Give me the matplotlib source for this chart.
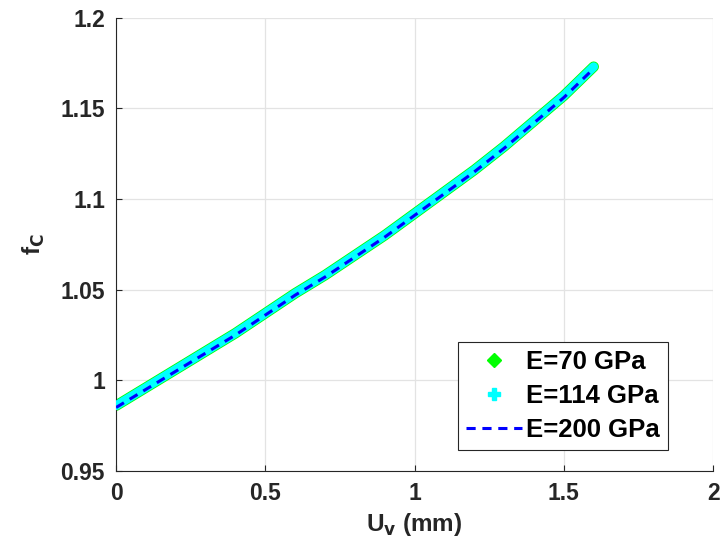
import matplotlib
matplotlib.use('Agg')
import matplotlib.pyplot as plt
from matplotlib.lines import Line2D
import numpy as np

plt.rcParams['font.family'] = ['Liberation Sans', 'DejaVu Sans']
plt.rcParams['font.weight'] = 'bold'
plt.rcParams['axes.labelweight'] = 'bold'
plt.rcParams['mathtext.default'] = 'bf'

# vertical displacement (mm) and correction factor for each modulus
uv = [0.0, 0.1, 0.2, 0.3, 0.4, 0.5, 0.6, 0.7, 0.8, 0.9, 1.0,
      1.1, 1.2, 1.3, 1.4, 1.5, 1.6]
fc_70 = [0.986, 0.996, 1.006, 1.016, 1.026, 1.037, 1.048, 1.058, 1.069,
         1.080, 1.092, 1.104, 1.116, 1.129, 1.143, 1.157, 1.173]
fc_114 = [0.986, 0.996, 1.006, 1.016, 1.026, 1.037, 1.048, 1.058, 1.069,
          1.080, 1.092, 1.104, 1.116, 1.129, 1.143, 1.157, 1.173]
fc_200 = [0.985, 0.995, 1.005, 1.015, 1.025, 1.036, 1.047, 1.057, 1.068,
          1.079, 1.091, 1.103, 1.115, 1.128, 1.142, 1.156, 1.172]
labels = ['E=70 GPa', 'E=114 GPa', 'E=200 GPa']

xticks = [0, 0.5, 1, 1.5, 2]
xticklabels = ['0', '0.5', '1', '1.5', '2']
yticks = [0.95, 1.0, 1.05, 1.1, 1.15, 1.2]
yticklabels = ['0.95', '1', '1.05', '1.1', '1.15', '1.2']

GREEN = '#00ff00'
CYAN = '#00ffff'
BLUE = '#0000ff'
DARK = '#262626'
DASHES = (3.0, 2.2)

fig = plt.figure(figsize=(7.21, 5.56), dpi=100)
ax = fig.add_axes([0.161, 0.153, 0.828, 0.815])

# dense markers in the original form a solid band, drawn here as thick strokes
ax.plot(uv, fc_70, color=GREEN, lw=7.6, solid_capstyle='round',
        solid_joinstyle='round', zorder=2)
ax.plot(uv, fc_114, color=CYAN, lw=6.4, solid_capstyle='round',
        solid_joinstyle='round', zorder=3)
ax.plot(uv, fc_200, color=BLUE, lw=2.2, ls='--', dashes=DASHES, zorder=4)

ax.set_xlim(0, 2)
ax.set_ylim(0.95, 1.2)
ax.set_xticks(xticks)
ax.set_xticklabels(xticklabels)
ax.set_yticks(yticks)
ax.set_yticklabels(yticklabels)
ax.tick_params(direction='in', length=4, width=0.8, colors=DARK,
               labelsize=16.5, pad=8, top=False, right=False)
ax.grid(True, color='#e3e3e3', lw=0.9)
ax.set_axisbelow(True)
for side in ['top', 'right']:
    ax.spines[side].set_visible(False)
for side in ['left', 'bottom']:
    ax.spines[side].set_color(DARK)
    ax.spines[side].set_linewidth(0.8)

ax.set_xlabel(r'U$_\mathbf{v}$ (mm)', fontsize=17.5, color=DARK, labelpad=4)
ax.set_ylabel(r'f$_\mathbf{C}$', fontsize=17.5, color=DARK, labelpad=10)

handles = [
    Line2D([], [], color=GREEN, marker='D', markersize=7, ls='none'),
    Line2D([], [], color=CYAN, marker='P', markersize=8, ls='none'),
    Line2D([], [], color=BLUE, lw=2.2, ls='--', dashes=DASHES),
]
leg = ax.legend(handles, labels, loc='lower right',
                bbox_to_anchor=(0.925, 0.046), borderaxespad=0,
                fontsize=18.5, handlelength=2.2, handletextpad=0.15,
                labelspacing=0.38, borderpad=0.32, fancybox=False,
                framealpha=1, edgecolor=DARK)
leg.get_frame().set_linewidth(0.8)

fig.savefig('out.png', dpi=100)
